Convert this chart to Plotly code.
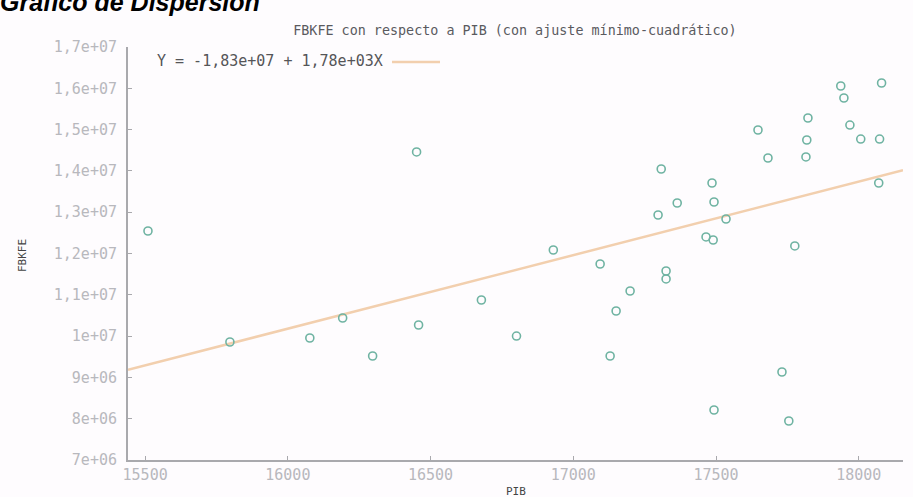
import plotly.graph_objects as go

# Data
pib = [15510, 15797, 16077, 16192, 16297, 16451, 16458, 16678, 16801, 16930,
       17094, 17129, 17150, 17199, 17297, 17308, 17325, 17325, 17364, 17465,
       17490, 17486, 17493, 17493, 17535, 17647, 17682, 17731, 17755, 17776,
       17815, 17818, 17822, 17937, 17948, 17969, 18007, 18070, 18073, 18080]
fbkfe = [12.545e6, 9.857e6, 9.954e6, 10.438e6, 9.518e6, 14.458e6, 10.269e6, 10.874e6, 10.002e6, 12.085e6,
         11.746e6, 9.518e6, 10.608e6, 11.092e6, 12.932e6, 14.046e6, 11.576e6, 11.383e6, 13.223e6, 12.400e6,
         12.327e6, 13.707e6, 13.247e6, 8.211e6, 12.835e6, 14.990e6, 14.312e6, 9.131e6, 7.944e6, 12.182e6,
         14.337e6, 14.748e6, 15.281e6, 16.056e6, 15.765e6, 15.111e6, 14.772e6, 13.707e6, 14.772e6, 16.128e6]

intercept = -1.83e7
slope = 1.78e3
x_range = [15440, 18155]
y_range = [7e6, 1.7e7]

x_tickvals = [15500, 16000, 16500, 17000, 17500, 18000]
x_ticktext = ["15500", "16000", "16500", "17000", "17500", "18000"]
y_tickvals = [7e6, 8e6, 9e6, 1e7, 1.1e7, 1.2e7, 1.3e7, 1.4e7, 1.5e7, 1.6e7, 1.7e7]
y_ticktext = ["7e+06", "8e+06", "9e+06", "1e+07", "1,1e+07", "1,2e+07", "1,3e+07",
              "1,4e+07", "1,5e+07", "1,6e+07", "1,7e+07"]

fit_x = x_range
fit_y = [intercept + slope * v for v in fit_x]

MARK = "#6fb3a2"
LINE = "#f2cfae"
AXIS = "#a9a9ad"
TICKFONT = dict(family="DejaVu Sans Mono", size=15, color="#b8b8bd")

fig = go.Figure()
fig.add_trace(go.Scatter(x=fit_x, y=fit_y, mode="lines",
                         line=dict(color=LINE, width=2.5), showlegend=False,
                         hoverinfo="skip"))
fig.add_trace(go.Scatter(x=pib, y=fbkfe, mode="markers",
                         marker=dict(symbol="circle-open", size=8, color=MARK,
                                     line=dict(width=1.6, color=MARK)),
                         showlegend=False))

fig.update_layout(
    width=913, height=497,
    margin=dict(l=128, r=10, t=47, b=37),
    paper_bgcolor="#fefcfe", plot_bgcolor="#fefcfe",
    showlegend=False,
    title=dict(text="FBKFE con respecto a PIB (con ajuste mínimo-cuadrático)",
               x=0.564, xanchor="center", y=0.94, yanchor="middle",
               font=dict(family="DejaVu Sans Mono", size=13.4, color="#5a5a5e")),
    xaxis=dict(range=x_range, tickvals=x_tickvals, ticktext=x_ticktext,
               showgrid=False, zeroline=False, showline=True, linecolor=AXIS,
               linewidth=2, ticks="inside", ticklen=4, tickcolor=AXIS,
               tickfont=TICKFONT),
    yaxis=dict(range=y_range, tickvals=y_tickvals, ticktext=y_ticktext,
               showgrid=False, zeroline=False, showline=True, linecolor=AXIS,
               linewidth=2, ticks="inside", ticklen=4, tickcolor=AXIS,
               tickfont=TICKFONT, ticklabelstandoff=6),
)

# Axis titles
fig.add_annotation(text="PIB", xref="paper", yref="paper",
                   x=(516 - 128) / 775, y=(460 - 491) / 413,
                   xanchor="center", yanchor="middle", showarrow=False,
                   font=dict(family="DejaVu Sans Mono", size=11, color="#444"))
fig.add_annotation(text="FBKFE", xref="paper", yref="paper",
                   x=(23 - 128) / 775, y=(460 - 255) / 413, textangle=-90,
                   xanchor="center", yanchor="middle", showarrow=False,
                   font=dict(family="DejaVu Sans Mono", size=11, color="#444"))

# Legend (text then key line)
fig.add_annotation(text="Y = -1,83e+07 + 1,78e+03X", xref="paper", yref="paper",
                   x=(155 - 128) / 775, y=(460 - 61) / 413,
                   xanchor="left", yanchor="middle", showarrow=False,
                   font=dict(family="DejaVu Sans Mono", size=15, color="#555558"))
fig.add_shape(type="line", xref="paper", yref="paper",
              x0=(392 - 128) / 775, x1=(440 - 128) / 775,
              y0=(460 - 62) / 413, y1=(460 - 62) / 413,
              line=dict(color=LINE, width=2.5))

# Heading partially cut off at the top
fig.add_annotation(text="<b><i>Gráfico de Dispersión</i></b>", xref="paper", yref="paper",
                   x=(-2 - 128) / 775, y=(460 - 2) / 413,
                   xanchor="left", yanchor="middle", showarrow=False,
                   font=dict(family="Liberation Sans", size=25, color="#000"))

fig.write_html("out.html", config={"displayModeBar": False},
               post_script="document.body.style.margin='0';document.body.style.overflow='hidden';")
